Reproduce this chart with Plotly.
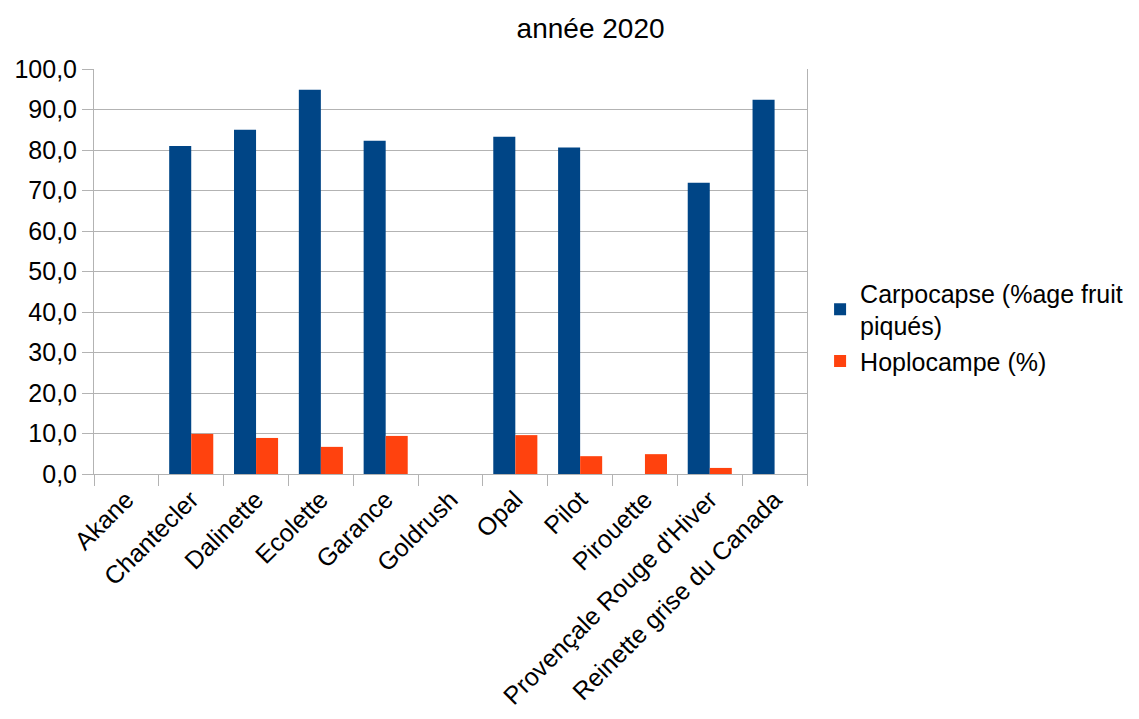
import plotly.graph_objects as go

categories = ["Akane", "Chantecler", "Dalinette", "Ecolette", "Garance", "Goldrush",
              "Opal", "Pilot", "Pirouette", "Provençale Rouge d'Hiver", "Reinette grise du Canada"]
carpocapse = [None, 81.0, 85.0, 94.9, 82.3, None, 83.3, 80.6, None, 71.9, 92.4]
hoplocampe = [None, 9.9, 8.9, 6.7, 9.4, None, 9.6, 4.4, 4.9, 1.5, None]

FONT = "Liberation Sans, Arial, sans-serif"
GRID = "#b3b3b3"

fig = go.Figure()
fig.add_trace(go.Bar(x=categories, y=carpocapse, name="Carpocapse (%age fruit<br>piqués)",
                     marker_color="#004586", marker_line_width=0))
fig.add_trace(go.Bar(x=categories, y=hoplocampe, name="Hoplocampe (%)",
                     marker_color="#ff420e", marker_line_width=0))

fig.update_layout(
    width=1139, height=719,
    margin=dict(l=94, r=332, t=69, b=245, autoexpand=False),
    paper_bgcolor="white", plot_bgcolor="white",
    font=dict(family=FONT, size=25, color="#000000"),
    separators=", ",
    barmode="group", bargap=0.32, bargroupgap=0,
    title=dict(text="année 2020", x=0.5185, xref="container", y=0.961, yref="container",
               xanchor="center", yanchor="middle", font=dict(size=28)),
    showlegend=True,
    legend=dict(x=0.72, xref="container", xanchor="left", y=0.545, yref="container",
                yanchor="middle", font=dict(size=25), tracegroupgap=8, itemwidth=30,
                bgcolor="rgba(0,0,0,0)"),
)
fig.update_xaxes(
    type="category", showline=True, linecolor=GRID, linewidth=1, automargin=False,
    ticks="outside", tickson="boundaries", ticklen=11, tickcolor=GRID,
    tickangle=-45, showgrid=False, tickfont=dict(size=25),
)
fig.update_yaxes(
    range=[0, 100], dtick=10, tickformat=".1f", automargin=False,
    showline=True, linecolor=GRID, linewidth=1, mirror=True,
    ticks="outside", ticklen=11, tickcolor=GRID,
    showgrid=True, gridcolor=GRID, gridwidth=1, zeroline=False,
    tickfont=dict(size=25),
)

fig.write_html("out.html")
